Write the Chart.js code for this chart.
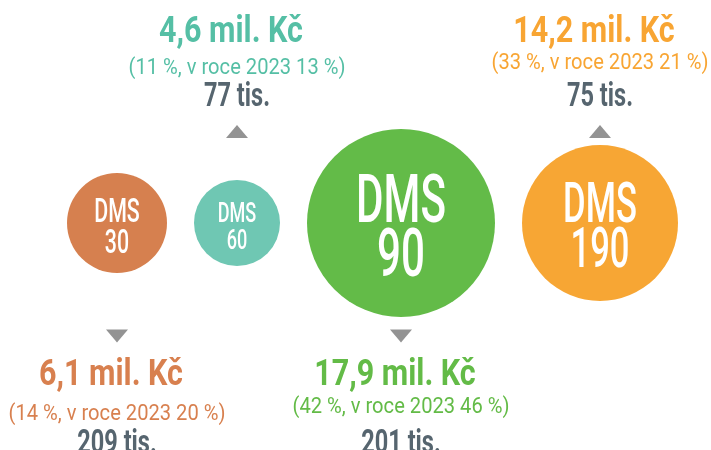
<!DOCTYPE html>
<html>
<head>
<meta charset="utf-8">
<script src="https://cdn.jsdelivr.net/npm/chart.js@4/dist/chart.umd.min.js"></script>
<style>
html,body{margin:0;padding:0;background:#fff;}
#wrap{width:711px;height:450px;position:relative;}
</style>
</head>
<body>
<div id="wrap"><canvas id="c" width="711" height="450"></canvas></div>
<script>
// ---- data ----
const categories = ['DMS 30', 'DMS 60', 'DMS 90', 'DMS 190'];
const bubbleTop = ['DMS', 'DMS', 'DMS', 'DMS'];
const bubbleBottom = ['30', '60', '90', '190'];
const revenueMil = [6.1, 4.6, 17.9, 14.2];      // mil. Kč
const sharePct = [14, 11, 42, 33];               // %
const share2023Pct = [20, 13, 46, 21];           // %
const customersTis = [209, 77, 201, 75];         // tis.
const bubbleRadius = [50, 43, 94, 78];
const calloutSide = ['below', 'above', 'below', 'above'];

// ---- styles ----
const bubbleColors = ['#d6804f', '#6fc7b3', '#63bb48', '#f7a634'];
const textColors = ['#d8804f', '#55bfa5', '#63bb47', '#f8a533'];
const pctShift = [3.5, 2.5, -3.5, -2.5];
const countColor = '#56656f';
const arrowColor = '#939393';
const FONT = 'Roboto, "DejaVu Sans", sans-serif';
const GAP = 27, LEFT = 67;

// pack bubbles side by side (pixel units on hidden linear axis)
const xs = [];
bubbleRadius.forEach((r, i) => {
  xs.push(i === 0 ? LEFT + r : xs[i - 1] + bubbleRadius[i - 1] + GAP + r);
});
const points = categories.map((c, i) => ({x: xs[i], y: 0, r: bubbleRadius[i]}));

function fitScale(ctx, font, sample, width) {
  ctx.save();
  ctx.font = font;
  const w = ctx.measureText(sample).width;
  ctx.restore();
  return width / w;
}
function condText(ctx, text, x, y, font, color, sx) {
  ctx.save();
  ctx.font = font;
  ctx.fillStyle = color;
  ctx.textAlign = 'center';
  ctx.textBaseline = 'alphabetic';
  ctx.translate(x, y);
  ctx.scale(sx, 1);
  ctx.fillText(text, 0, 0);
  ctx.restore();
}
const fmt = v => v.toFixed(1).replace('.', ',');

const AMT_FONT = 'bold 37.5px ' + FONT;
const PCT_FONT = '400 22px ' + FONT;
const CNT_FONT = 'bold 32.5px ' + FONT;

const labelPlugin = {
  id: 'labels',
  afterDatasetsDraw(chart) {
    const ctx = chart.ctx;
    const meta = chart.getDatasetMeta(0);
    const top = chart.chartArea.top;
    const sAmt = fitScale(ctx, AMT_FONT, '4,6 mil. Kč', 144);
    const sPct = fitScale(ctx, PCT_FONT, '(11 %, v roce 2023 13 %)', 217);
    const sCnt = fitScale(ctx, CNT_FONT, '77 tis.', 66);
    meta.data.forEach((el, i) => {
      const cx = el.x, cy = el.y, r = bubbleRadius[i];
      // text inside bubble
      const cap = 0.53 * r - 2.5;
      const fs = cap / 0.711;
      const f = '500 ' + fs.toFixed(1) + 'px ' + FONT;
      const sB = fitScale(ctx, f, 'DMS', 1.9 * cap);
      condText(ctx, bubbleTop[i], cx, cy - 1, f, '#ffffff', sB);
      condText(ctx, bubbleBottom[i], cx, cy + cap + 5.5, f, '#ffffff', sB);

      // callout
      const above = calloutSide[i] === 'above';
      const triY = above ? top + 131.5 : top + 336;
      ctx.save();
      ctx.fillStyle = arrowColor;
      ctx.beginPath();
      if (above) {
        ctx.moveTo(cx - 11, triY + 6.5);
        ctx.lineTo(cx + 11, triY + 6.5);
        ctx.lineTo(cx, triY - 6.5);
      } else {
        ctx.moveTo(cx - 11, triY - 6.5);
        ctx.lineTo(cx + 11, triY - 6.5);
        ctx.lineTo(cx, triY + 6.5);
      }
      ctx.closePath();
      ctx.fill();
      ctx.restore();

      const b = above ? [42, 71.5, 106] : [384.5, 416.5, 453];
      condText(ctx, fmt(revenueMil[i]) + ' mil. Kč', cx - 6, top + b[0],
        AMT_FONT, textColors[i], sAmt);
      condText(ctx, '(' + sharePct[i] + ' %, v roce 2023 ' + share2023Pct[i] + ' %)', cx, top + b[1] + pctShift[i],
        PCT_FONT, textColors[i], sPct);
      condText(ctx, customersTis[i] + ' tis.', cx, top + b[2],
        CNT_FONT, countColor, sCnt);
    });
  }
};

new Chart(document.getElementById('c'), {
  type: 'bubble',
  data: {
    labels: categories,
    datasets: [{
      data: points,
      backgroundColor: bubbleColors,
      borderWidth: 0,
      hoverRadius: 0
    }]
  },
  options: {
    responsive: false,
    animation: false,
    events: [],
    layout: {padding: 0, autoPadding: false},
    plugins: {legend: {display: false}, tooltip: {enabled: false}},
    scales: {
      x: {type: 'linear', display: false, min: 0, max: 711},
      y: {type: 'linear', display: false, min: -227, max: 223}
    }
  },
  plugins: [labelPlugin]
});
</script>
</body>
</html>
